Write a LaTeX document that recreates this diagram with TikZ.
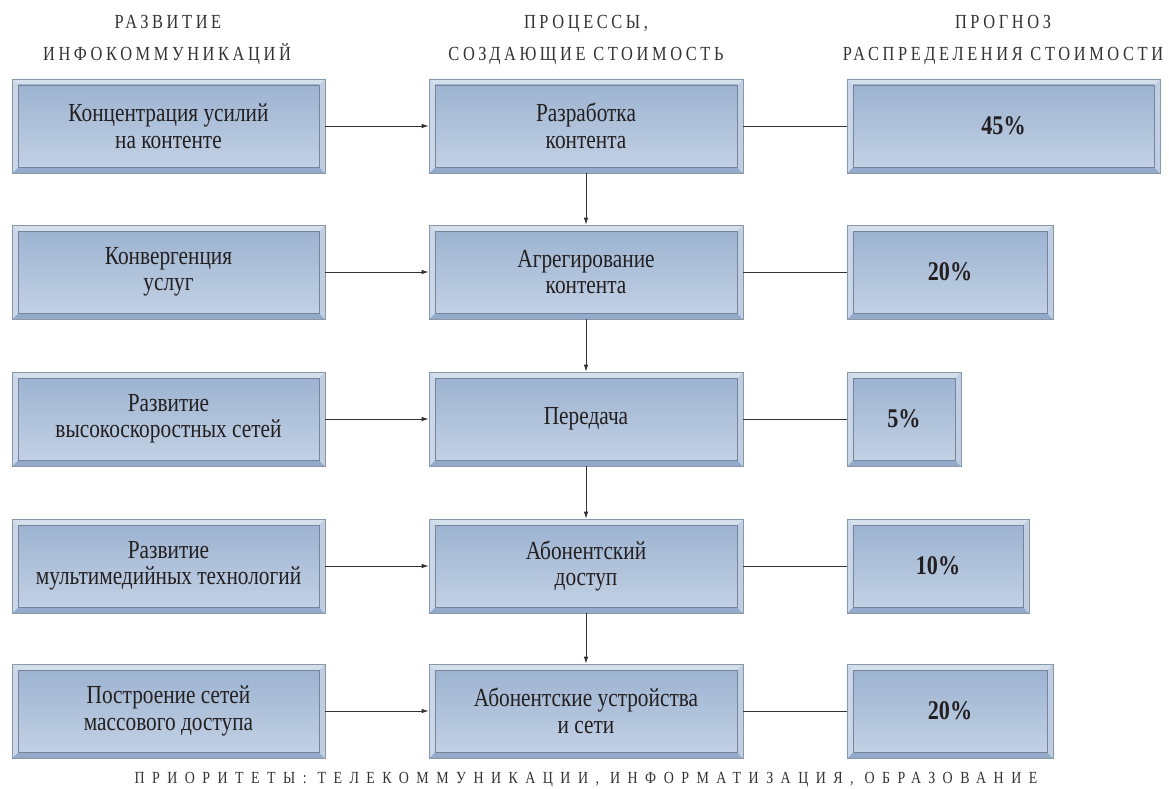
\documentclass[tikz,border=0pt]{standalone}
\usepackage{fontspec}
\setmainfont{Liberation Serif}
\newfontfamily\bxf{Liberation Serif}[FakeStretch=0.82]
\newfontfamily\hdf{Liberation Serif}[FakeStretch=0.82,LetterSpace=18]
\newfontfamily\ftf{Liberation Serif}[FakeStretch=0.82,LetterSpace=44]
\usetikzlibrary{arrows.meta}
\definecolor{gtop}{HTML}{9DB3D1}
\definecolor{gbot}{HTML}{C2D1E4}
\definecolor{bvtop}{HTML}{D3DFEB}
\definecolor{bvleft}{HTML}{C9D7E8}
\definecolor{bvright}{HTML}{BFCEE2}
\definecolor{bvbot}{HTML}{93AACA}
\definecolor{edgec}{HTML}{8A97A6}
\definecolor{inedge}{HTML}{76849A}
\definecolor{txt}{HTML}{231F20}
\definecolor{hdc}{HTML}{333333}
\definecolor{linec}{HTML}{333333}
\tikzset{
  bx/.style={rectangle, draw=edgec, line width=0.7pt, minimum height=94pt, inner sep=0pt,
    align=center, text=txt, font=\bxf\fontsize{26}{26.5}\selectfont,
    path picture={
      \fill[bvtop] (path picture bounding box.north west) -- (path picture bounding box.north east)
        -- ([shift={(-6pt,-6pt)}]path picture bounding box.north east)
        -- ([shift={(6pt,-6pt)}]path picture bounding box.north west) -- cycle;
      \fill[bvbot] (path picture bounding box.south west) -- (path picture bounding box.south east)
        -- ([shift={(-6pt,6pt)}]path picture bounding box.south east)
        -- ([shift={(6pt,6pt)}]path picture bounding box.south west) -- cycle;
      \fill[bvleft] (path picture bounding box.south west) -- (path picture bounding box.north west)
        -- ([shift={(6pt,-6pt)}]path picture bounding box.north west)
        -- ([shift={(6pt,6pt)}]path picture bounding box.south west) -- cycle;
      \fill[bvright] (path picture bounding box.south east) -- (path picture bounding box.north east)
        -- ([shift={(-6pt,-6pt)}]path picture bounding box.north east)
        -- ([shift={(-6pt,6pt)}]path picture bounding box.south east) -- cycle;
      \shade[top color=gtop, bottom color=gbot, draw=inedge, line width=0.8pt]
        ([shift={(6pt,-6pt)}]path picture bounding box.north west)
        rectangle ([shift={(-6pt,6pt)}]path picture bounding box.south east);
    }},
  pc/.style={bx, font=\bxf\bfseries\fontsize{27}{28}\selectfont},
  hd/.style={anchor=base, text=hdc, font=\hdf\fontsize{20}{20}\selectfont, inner sep=0pt},
  ft/.style={anchor=base, text=hdc, font=\ftf\fontsize{17}{17}\selectfont, inner sep=0pt},
  arr/.style={draw=linec, line width=0.8pt, -{Latex[length=7pt,width=4.5pt]}},
  ln/.style={draw=linec, line width=0.8pt}
}
\begin{document}
\begin{tikzpicture}[x=1pt,y=1pt]
\useasboundingbox (0,0) rectangle (1169,-789);
% headers
\node[hd] (h1a) at (168,-29) {РАЗВИТИЕ};
\node[hd] (h1b) at (167,-61) {ИНФОКОММУНИКАЦИЙ};
\node[hd] (h2a) at (586,-29) {ПРОЦЕССЫ,};
\node[hd] (h2b) at (586,-61) {СОЗДАЮЩИЕ СТОИМОСТЬ};
\node[hd] (h3a) at (1003,-29) {ПРОГНОЗ};
\node[hd] (h3b) at (1003,-61) {РАСПРЕДЕЛЕНИЯ СТОИМОСТИ};
% left column
\node[bx, minimum width=313pt] (l1) at (168.5,-126) {Концентрация усилий\\на контенте};
\node[bx, minimum width=313pt] (l2) at (168.5,-272) {Конвергенция\\услуг};
\node[bx, minimum width=313pt] (l3) at (168.5,-419) {Развитие\\высокоскоростных сетей};
\node[bx, minimum width=313pt] (l4) at (168.5,-566) {Развитие\\мультимедийных технологий};
\node[bx, minimum width=313pt] (l5) at (168.5,-711) {Построение сетей\\массового доступа};
% middle column
\node[bx, minimum width=314pt] (m1) at (586,-126) {Разработка\\контента};
\node[bx, minimum width=314pt] (m2) at (586,-272) {Агрегирование\\контента};
\node[bx, minimum width=314pt] (m3) at (586,-419) {Передача};
\node[bx, minimum width=314pt] (m4) at (586,-566) {Абонентский\\доступ};
\node[bx, minimum width=314pt] (m5) at (586,-711) {Абонентские устройства\\и сети};
% right column
\node[pc, minimum width=313pt] (r1) at (1003.5,-126) {45\%};
\node[pc, minimum width=206pt] (r2) at (950,-272) {20\%};
\node[pc, minimum width=114pt] (r3) at (904,-419) {5\%};
\node[pc, minimum width=182pt] (r4) at (938,-566) {10\%};
\node[pc, minimum width=206pt] (r5) at (950,-711) {20\%};
% connectors
\foreach \i in {1,...,5} {
  \draw[arr] (l\i.east) -- (m\i.west);
  \draw[ln] (m\i.east) -- (r\i.west);
}
\draw[arr] (m1.south) -- (m2.north);
\draw[arr] (m2.south) -- (m3.north);
\draw[arr] (m3.south) -- (m4.north);
\draw[arr] (m4.south) -- (m5.north);
% footer
\node[ft] (foot) at (586,-783) {ПРИОРИТЕТЫ: ТЕЛЕКОММУНИКАЦИИ, ИНФОРМАТИЗАЦИЯ, ОБРАЗОВАНИЕ};
\end{tikzpicture}
\end{document}
